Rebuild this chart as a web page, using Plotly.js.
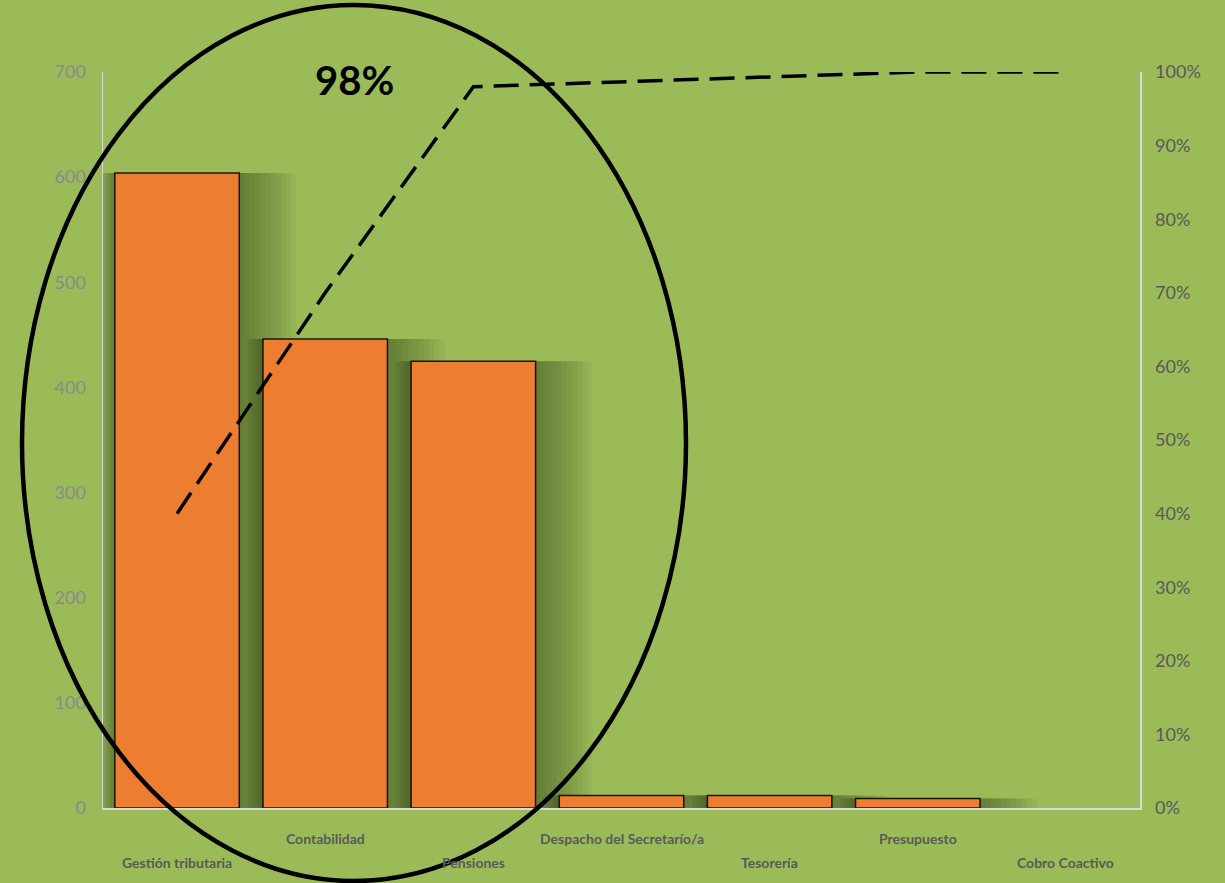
<!DOCTYPE html>
<html>
<head>
<meta charset="utf-8">
<script src="https://cdn.plot.ly/plotly-3.0.1.min.js"></script>
<style>
  html, body { margin: 0; padding: 0; background: #9BBB59; }
  #chart { width: 1225px; height: 883px; }
</style>
</head>
<body>
<div id="chart"></div>
<script>
// ---- data ----
const categories = ["Gestión tributaria", "Contabilidad", "Pensiones", "Despacho del Secretarío/a", "Tesorería", "Presupuesto", "Cobro Coactivo"];
const counts = [604, 446, 425, 12, 12, 9, 0];
const cumulativePct = [0.40, 0.70, 0.98, 0.987, 0.994, 1.0, 1.0];
const highlightLabel = "98%";

// ---- styling ----
const BG = "#9BBB59";
const BAR = "#ED7D31";
const AXIS_LINE = "#D9D9D9";
const FONT = "Lato, 'Open Sans', sans-serif";

const traces = [];

// soft dark glow behind the bars (same values, widened translucent layers)
const glowLayers = 11;
for (let k = 1; k <= glowLayers; k++) {
  traces.push({
    type: "bar",
    x: categories,
    y: counts,
    width: 0.84 + 0.045 * k,
    offset: -0.42 - 0.01 * k,
    marker: { color: "rgba(45,60,20,0.05)", line: { width: 0 } },
    hoverinfo: "skip",
    showlegend: false
  });
}

traces.push({
  type: "bar",
  x: categories,
  y: counts,
  width: 0.84,
  marker: {
    color: BAR,
    line: { color: "rgba(0,0,0,0.85)", width: counts.map(v => (v > 0 ? 1.5 : 0)) }
  },
  showlegend: false,
  name: "Cantidad"
});

traces.push({
  type: "scatter",
  mode: "lines",
  x: categories,
  y: cumulativePct,
  yaxis: "y2",
  line: { color: "#000000", width: 3.5, dash: "25px,11px" },
  showlegend: false,
  name: "% acumulado"
});

// staggered category labels (Excel style)
const annotations = categories.map((c, i) => ({
  x: c,
  xref: "x",
  yref: "paper",
  y: (i % 2 === 0) ? -0.0734 : -0.0408,
  yanchor: "middle",
  xanchor: "center",
  showarrow: false,
  text: "<b>" + c + "</b>",
  font: { family: FONT, size: 14, color: "#595959" }
}));

annotations.push({
  xref: "paper",
  yref: "paper",
  x: 0.243,
  y: 0.989,
  xanchor: "center",
  yanchor: "middle",
  showarrow: false,
  text: "<b>" + highlightLabel + "</b>",
  font: { family: FONT, size: 40, color: "#000000" }
});

const layout = {
  width: 1225,
  height: 883,
  paper_bgcolor: BG,
  plot_bgcolor: BG,
  margin: { l: 103, r: 85, t: 72, b: 75, pad: 0 },
  barmode: "overlay",
  showlegend: false,
  xaxis: {
    type: "category",
    range: [-0.5, 6.5],
    showline: true,
    linecolor: AXIS_LINE,
    linewidth: 1.5,
    showgrid: false,
    zeroline: false,
    ticks: "",
    showticklabels: false,
    fixedrange: true
  },
  yaxis: {
    range: [0, 700],
    dtick: 100,
    showline: true,
    linecolor: AXIS_LINE,
    linewidth: 1.5,
    showgrid: false,
    zeroline: false,
    ticks: "",
    ticklabelstandoff: 12,
    tickfont: { family: FONT, size: 18, color: "#8A8A8A" }
  },
  yaxis2: {
    overlaying: "y",
    side: "right",
    range: [0, 1],
    dtick: 0.1,
    tickformat: ".0%",
    showline: true,
    linecolor: AXIS_LINE,
    linewidth: 1.5,
    showgrid: false,
    zeroline: false,
    ticks: "",
    ticklabelstandoff: 10,
    tickfont: { family: FONT, size: 18, color: "#595959" }
  },
  annotations: annotations,
  shapes: [{
    type: "circle",
    xref: "paper",
    yref: "paper",
    x0: -0.0781,
    x1: 0.5622,
    y0: -0.0992,
    y1: 1.091,
    line: { color: "#000000", width: 4.5 },
    fillcolor: "rgba(0,0,0,0)",
    layer: "above"
  }]
};

Plotly.newPlot("chart", traces, layout, { displayModeBar: false, staticPlot: true });
</script>
</body>
</html>
